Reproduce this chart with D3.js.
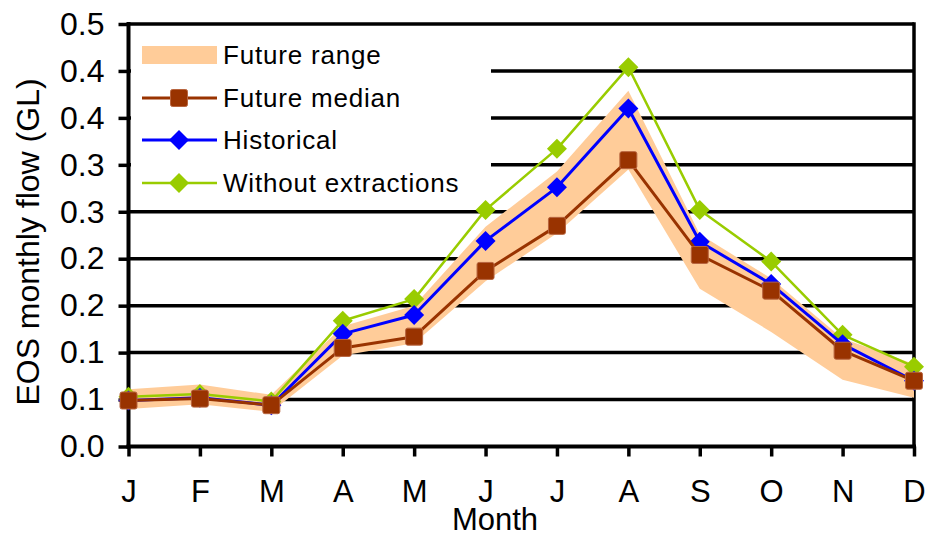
<!DOCTYPE html>
<html>
<head>
<meta charset="utf-8">
<script src="https://cdn.jsdelivr.net/npm/d3@7/dist/d3.min.js"></script>
<style>
  html, body { margin: 0; padding: 0; background: #fff; }
  svg { display: block; font-family: "Liberation Sans", Arial, sans-serif; }
</style>
</head>
<body>
<svg id="chart" width="925" height="536"></svg>
<script>
// ---- data ----
const months = ["J","F","M","A","M","J","J","A","S","O","N","D"];
const futureMedian = [0.049, 0.051, 0.044, 0.105, 0.117, 0.187, 0.235, 0.305, 0.204, 0.166, 0.102, 0.070];
const historical   = [0.049, 0.052, 0.044, 0.120, 0.140, 0.219, 0.276, 0.360, 0.218, 0.173, 0.109, 0.070];
const withoutExtr  = [0.053, 0.056, 0.048, 0.134, 0.157, 0.252, 0.317, 0.404, 0.252, 0.197, 0.119, 0.085];
const rangeLow     = [0.040, 0.045, 0.037, 0.097, 0.110, 0.176, 0.227, 0.295, 0.168, 0.122, 0.071, 0.052];
const rangeHigh    = [0.061, 0.066, 0.055, 0.128, 0.150, 0.234, 0.293, 0.379, 0.226, 0.179, 0.115, 0.088];
const yTickValues  = [0, 0.05, 0.10, 0.15, 0.20, 0.25, 0.30, 0.35, 0.40, 0.45];
const yTickLabels  = ["0.0","0.1","0.1","0.2","0.2","0.3","0.3","0.4","0.4","0.5"];
const legendLabels = ["Future range","Future median","Historical","Without extractions"];

const colBand = "#FFCC99", colMedian = "#993300", colHist = "#0000FF", colWithout = "#99CC00";

const svg = d3.select("#chart");
const L = 128.5, R = 914, T = 24, B = 446.5;

const idx = months.map((m, i) => i);
const x = d3.scalePoint().domain(idx).range([L, R]).padding(0);
const y = d3.scaleLinear().domain([0, 0.45]).range([B, T]);

// gridlines
svg.append("g").selectAll("line").data(yTickValues.filter(v => v > 0)).join("line")
  .attr("x1", L).attr("x2", R)
  .attr("y1", d => y(d)).attr("y2", d => y(d))
  .attr("stroke", "#000").attr("stroke-width", 3.5);
// right border
svg.append("line").attr("x1", R).attr("x2", R).attr("y1", T - 1.75).attr("y2", B)
  .attr("stroke", "#000").attr("stroke-width", 3.5);

// legend background (covers gridlines)
svg.append("rect").attr("x", 131).attr("y", 29).attr("width", 360).attr("height", 174).attr("fill", "#fff");

// band
const area = d3.area().x((d, i) => x(i)).y0(d => y(d[0])).y1(d => y(d[1]));
svg.append("path").datum(idx.map(i => [rangeLow[i], rangeHigh[i]]))
  .attr("d", area).attr("fill", colBand);

// axes
const yAxis = d3.axisLeft(y).tickValues(yTickValues)
  .tickFormat((d, i) => yTickLabels[i]).tickSize(10).tickPadding(14);
const gy = svg.append("g").attr("transform", `translate(${L},0)`).call(yAxis);
gy.select(".domain").attr("stroke-width", 4).attr("d", `M0,${T - 2}V${B + 2}`);
gy.selectAll(".tick line").attr("stroke-width", 3.5);
gy.selectAll("text").attr("font-size", 32).attr("fill", "#000")
  .attr("font-family", "Liberation Sans, Arial, sans-serif");

const xAxis = d3.axisBottom(x).tickFormat(i => months[i]).tickSize(10).tickPadding(10);
const gx = svg.append("g").attr("transform", `translate(0,${B})`).call(xAxis);
gx.select(".domain").attr("stroke-width", 4).attr("d", `M${L - 2},0H${R + 2}`);
gx.selectAll(".tick line").attr("stroke-width", 3.5);
gx.selectAll("text").attr("font-size", 31).attr("fill", "#000")
  .attr("font-family", "Liberation Sans, Arial, sans-serif")
  .attr("y", 55).attr("dy", 0);

// axis titles
svg.append("text").attr("x", 495).attr("y", 530).attr("text-anchor", "middle")
  .attr("font-size", 31).text("Month");
svg.append("text").attr("transform", "translate(39,242) rotate(-90)")
  .attr("text-anchor", "middle").attr("font-size", 32).text("EOS monthly flow (GL)");

// series
const line = d3.line().x((d, i) => x(i)).y(d => y(d));
const diamond = (g, cx, cy, s, fill) => g.append("path")
  .attr("d", `M${cx},${cy - s}L${cx + s},${cy}L${cx},${cy + s}L${cx - s},${cy}Z`)
  .attr("fill", fill);

function drawSeries(vals, color, width, marker) {
  const g = svg.append("g");
  g.append("path").datum(vals).attr("d", line).attr("fill", "none")
    .attr("stroke", color).attr("stroke-width", width).attr("stroke-linejoin", "round");
  vals.forEach((v, i) => marker(g, x(i), y(v)));
}
const diamondMarker = color => (g, cx, cy) => diamond(g, cx, cy, 10, color);
const squareMarker = (g, cx, cy) => g.append("rect")
  .attr("x", cx - 8.5).attr("y", cy - 8.5).attr("width", 17).attr("height", 17)
  .attr("rx", 2).attr("fill", colMedian).attr("stroke", "#B8653F").attr("stroke-width", 1);

drawSeries(withoutExtr, colWithout, 2.5, diamondMarker(colWithout));
drawSeries(historical, colHist, 3, diamondMarker(colHist));
drawSeries(futureMedian, colMedian, 3, squareMarker);

// legend
const lg = svg.append("g");
const rows = [55, 98, 140, 183];
const sx0 = 142, sx1 = 217, smid = 179;
lg.append("rect").attr("x", sx0).attr("y", rows[0] - 9).attr("width", sx1 - sx0).attr("height", 18).attr("fill", colBand);
const legSeries = [[colMedian, 3, squareMarker], [colHist, 3, diamondMarker(colHist)], [colWithout, 2.5, diamondMarker(colWithout)]];
legSeries.forEach(([c, w, m], k) => {
  const yy = rows[k + 1];
  lg.append("line").attr("x1", sx0).attr("x2", sx1).attr("y1", yy).attr("y2", yy)
    .attr("stroke", c).attr("stroke-width", w);
  m(lg, smid, yy);
});
lg.selectAll("text.leg").data(legendLabels).join("text")
  .attr("class", "leg").attr("x", 223).attr("y", (d, i) => rows[i])
  .attr("dy", "0.35em").attr("font-size", 26).attr("letter-spacing", "0.8px").text(d => d);
</script>
</body>
</html>
